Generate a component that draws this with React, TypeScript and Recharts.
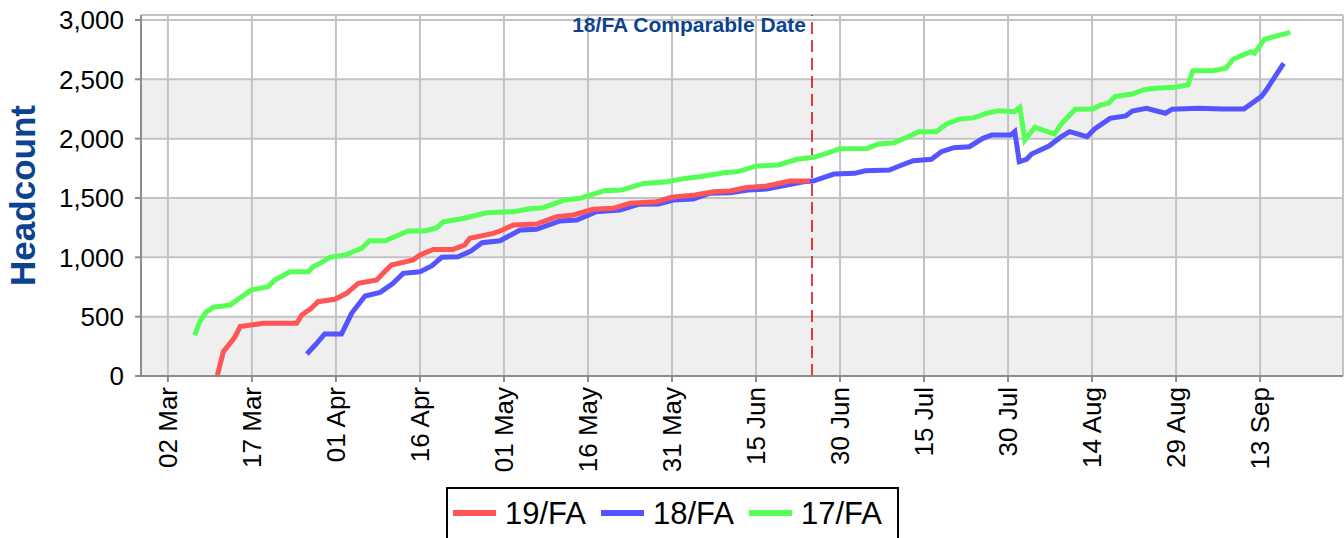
import React from 'react';
import {
  LineChart,
  Line,
  XAxis,
  YAxis,
  CartesianGrid,
  ReferenceLine,
  Legend,
} from 'recharts';

const FONT = 'Arial, "Liberation Sans", sans-serif';
const TITLE_BLUE = '#0b4391';

// x axis is "days since 02 Mar"
const tickDays = [0, 15, 30, 45, 60, 75, 90, 105, 120, 135, 150, 165, 180, 195];
const tickLabels = [
  '02 Mar', '17 Mar', '01 Apr', '16 Apr', '01 May', '16 May', '31 May',
  '15 Jun', '30 Jun', '15 Jul', '30 Jul', '14 Aug', '29 Aug', '13 Sep',
];
const yTicks = [0, 500, 1000, 1500, 2000, 2500, 3000];
const comparableDay = 115;

const days19 = [
  8.8, 9.9, 11.1, 12, 12.9, 17, 23, 23.9, 25.6, 26.8, 29.8, 31.9, 34, 37.3, 38.4,
  39.9, 43.8, 45, 47.4, 50.9, 53, 53.9, 58.1, 59.3, 61.7, 65.8, 69.4, 72.4, 75.9,
  79.5, 82.5, 87.3, 89.9, 94.1, 97.4, 100.4, 103.3, 106.9, 111.1, 114.6,
];
const heads19 = [
  0, 205, 275, 331, 416, 444, 444, 514, 570, 626, 646, 697, 781, 809, 865,
  935, 978, 1020, 1067, 1067, 1104, 1160, 1202, 1222, 1272, 1281, 1343, 1357, 1405,
  1413, 1455, 1469, 1506, 1525, 1553, 1559, 1589, 1601, 1643, 1643,
];

const days18 = [
  24.8, 26.3, 28, 31, 32.8, 35.2, 37.9, 40.2, 42, 45, 47.1, 48.9, 51.8, 54, 56.1,
  59.3, 62.9, 65.8, 70, 73, 76.5, 80.7, 84, 87.6, 90.2, 93.8, 96.8, 100.4, 103.6,
  106.9, 110.5, 113.5, 115.2, 118.9, 122.6, 124.5, 128.8, 130.7, 133.1, 136.3, 138.1,
  140.3, 143.1, 145.5, 147.1, 150.5, 151.2, 152, 153.3, 154.2, 157.3, 159.5, 161,
  164.1, 165.4, 168.2, 171, 172.2, 174.7, 178.1, 179.3, 184, 188.3, 192.1, 195.2,
  196.1, 199.2,
];
const heads18 = [
  185, 261, 354, 354, 528, 674, 705, 781, 865, 879, 927, 1000, 1005, 1050, 1123,
  1140, 1230, 1236, 1306, 1315, 1385, 1399, 1447, 1449, 1483, 1492, 1540, 1545, 1567,
  1576, 1610, 1637, 1643, 1702, 1708, 1730, 1736, 1772, 1814, 1826, 1890,
  1924, 1932, 2003, 2031, 2031, 2059, 1806, 1826, 1871, 1938, 2017, 2059,
  2017, 2079, 2171, 2191, 2233, 2256, 2214, 2248, 2256, 2250, 2250, 2354,
  2410, 2635,
];

const days17 = [
  4.8, 5.7, 6.9, 8.1, 11.1, 12.9, 14.9, 17.9, 19.1, 21.8, 25.1, 25.9, 27.4, 28.9,
  31.6, 34.6, 36, 38.8, 40.8, 42.9, 45.9, 48, 49.2, 52.9, 56.9, 61.7, 64.3, 67, 70.9,
  73.6, 75.4, 78, 81, 84.9, 89.1, 92.3, 95, 99.2, 101.8, 105.1, 109, 112.3, 115.3,
  117.2, 120, 124.8, 126.9, 129.7, 134.1, 137.2, 139, 141.2, 144, 146.2, 148.4, 151.1,
  152.1, 153, 154.8, 158.3, 159.5, 162, 165.1, 166.6, 167.9, 169.1, 172.2, 174.1,
  176.2, 179.7, 182.1, 183, 186.5, 188.9, 190.2, 193.3, 194, 195.8, 200.4,
];
const heads17 = [
  345, 458, 542, 579, 598, 660, 725, 753, 809, 879, 879, 921, 955, 1000,
  1020, 1076, 1140, 1140, 1180, 1222, 1222, 1250, 1300, 1329, 1376, 1385, 1407, 1418, 1483,
  1497, 1525, 1562, 1567, 1623, 1637, 1665, 1679, 1713, 1722, 1770, 1778, 1826, 1843,
  1870, 1915, 1918, 1955, 1966, 2059, 2059, 2124, 2163, 2177, 2214, 2236, 2227,
  2264, 1989, 2096, 2039, 2124, 2248, 2250, 2284, 2298, 2354, 2376, 2410,
  2424, 2433, 2452, 2573, 2573, 2593, 2669, 2733, 2720, 2838, 2895,
];

const zip = (d: number[], v: number[]) => d.map((day, i) => ({ day, v: v[i] }));

const series = [
  { name: '19/FA', color: '#ff5555', data: zip(days19, heads19) },
  { name: '18/FA', color: '#5555ff', data: zip(days18, heads18) },
  { name: '17/FA', color: '#55ff55', data: zip(days17, heads17) },
];

const DateTick = ({ x, y, payload }: any) => {
  const label = tickLabels[tickDays.indexOf(Number(payload.value))];
  return (
    <g transform={`translate(${x},${y})`}>
      <text
        transform="rotate(-90)"
        textAnchor="end"
        dy="0.36em"
        fontSize={26}
        fontFamily={FONT}
        fill="#000"
      >
        {label}
      </text>
    </g>
  );
};

const HeadcountLabel = ({ viewBox }: any) => {
  const cy = viewBox ? viewBox.y + viewBox.height / 2 : 195.5;
  return (
    <text
      x={35}
      y={cy}
      transform={`rotate(-90, 35, ${cy})`}
      textAnchor="middle"
      fontSize={35}
      fontWeight="bold"
      fontFamily={FONT}
      fill={TITLE_BLUE}
    >
      Headcount
    </text>
  );
};

const ComparableLabel = ({ viewBox }: any) => (
  <text
    x={viewBox.x - 6}
    y={viewBox.y + 17}
    textAnchor="end"
    fontSize={21}
    fontWeight="bold"
    fontFamily={FONT}
    fill={TITLE_BLUE}
  >
    18/FA Comparable Date
  </text>
);

const LegendBox = () => (
  <div
    style={{
      display: 'flex',
      alignItems: 'center',
      boxSizing: 'border-box',
      width: 453,
      height: 54,
      border: '2px solid #000',
      background: '#fff',
      paddingLeft: 5,
      paddingBottom: 2,
      fontFamily: FONT,
      fontSize: 31,
      color: '#000',
    }}
  >
    {series.map((s) => (
      <div key={s.name} style={{ display: 'flex', alignItems: 'center', marginRight: 15 }}>
        <span style={{ display: 'inline-block', width: 43, height: 6, background: s.color, marginRight: 9 }} />
        <span style={{ lineHeight: '31px' }}>{s.name}</span>
      </div>
    ))}
  </div>
);

export default function App() {
  return (
    <div style={{ position: 'absolute', left: 0, top: 0, background: '#fff' }}>
      <LineChart width={1344} height={538} margin={{ top: 15, right: 1, left: 0, bottom: 0 }}>
        <CartesianGrid
          stroke="#c3c3c3"
          strokeWidth={2}
          horizontalFill={['#ffffff', '#ffffff', '#efefef', '#ffffff', '#efefef', '#ffffff', '#efefef']}
          fillOpacity={1}
        />
        <XAxis
          dataKey="day"
          type="number"
          domain={[-4.8, 209.8]}
          ticks={tickDays}
          allowDataOverflow
          height={162}
          tick={<DateTick />}
          tickSize={6}
          tickMargin={5}
          interval={0}
          axisLine={{ stroke: '#8c8c8c', strokeWidth: 2 }}
          tickLine={{ stroke: '#8c8c8c', strokeWidth: 2 }}
        />
        <XAxis
          xAxisId="top"
          orientation="top"
          type="number"
          domain={[-4.8, 209.8]}
          height={0}
          tick={false}
          tickLine={false}
          axisLine={{ stroke: '#8c8c8c', strokeWidth: 2 }}
        />
        <YAxis
          type="number"
          domain={[0, 3042]}
          ticks={yTicks}
          allowDataOverflow
          width={141}
          tickSize={6}
          tickMargin={11}
          interval={0}
          tickFormatter={(v: number) => v.toLocaleString('en-US')}
          tick={{ fontSize: 26, fontFamily: FONT, fill: '#000' }}
          axisLine={{ stroke: '#8c8c8c', strokeWidth: 2 }}
          tickLine={{ stroke: '#8c8c8c', strokeWidth: 2 }}
          label={<HeadcountLabel />}
        />
        <ReferenceLine
          x={comparableDay}
          stroke="#e00000"
          strokeWidth={1.5}
          strokeDasharray="12 6"
          label={<ComparableLabel />}
        />
        {[...series].reverse().map((s) => (
          <Line
            key={s.name}
            data={s.data}
            dataKey="v"
            name={s.name}
            type="linear"
            stroke={s.color}
            strokeWidth={5}
            dot={false}
            activeDot={false}
            isAnimationActive={false}
          />
        ))}
        <Legend
          layout="horizontal"
          verticalAlign="middle"
          align="center"
          content={<LegendBox />}
          wrapperStyle={{ left: 446, top: 487, width: 'auto', height: 'auto' }}
        />
      </LineChart>
    </div>
  );
}
